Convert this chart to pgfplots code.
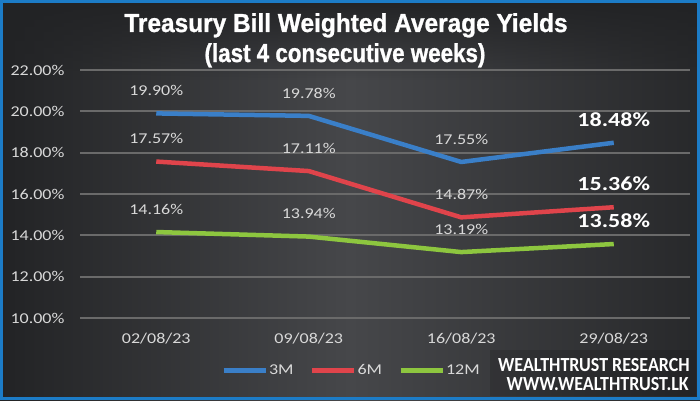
\documentclass[border=0pt]{standalone}
\usepackage{fontspec}
\usepackage{pgfplots}
\pgfplotsset{compat=1.18}
\usetikzlibrary{fadings}
\setmainfont[FakeStretch=1.2]{Carlito}
\newfontfamily\titlefontA[FakeStretch=0.94, FakeBold=1]{Liberation Sans}
\newfontfamily\titlefontB[FakeStretch=0.86, FakeBold=1]{Liberation Sans}
\newfontfamily\wmfont[FakeStretch=0.9]{Carlito}
\definecolor{bgdark}{HTML}{222325}
\definecolor{bgmid}{HTML}{46474A}
\definecolor{gridc}{HTML}{6A6A6A}
\definecolor{c3m}{HTML}{3A7FC8}
\definecolor{c6m}{HTML}{E0444B}
\definecolor{c12m}{HTML}{8DC63F}
\definecolor{lbl}{HTML}{D9D9D9}
\definecolor{bordc}{HTML}{1C7CC7}
\begin{document}
\begin{tikzpicture}
\shade[left color=bgdark, right color=bgdark!85!bgmid, middle color=bgmid] (0pt,0pt) rectangle (700pt,400pt);
\fill[bgdark, path fading=south] (0pt,320pt) rectangle (700pt,400pt);
\fill[black, opacity=0.12] (490pt,4pt) rectangle (696pt,50pt);
\draw[bordc, line width=3pt] (1.5pt,1.5pt) rectangle (698.5pt,398.5pt);
\begin{axis}[
  at={(80pt,82pt)}, anchor=south west, scale only axis,
  width=610pt, height=248pt,
  xmin=-0.5, xmax=3.5, ymin=10, ymax=22,
  xtick={0,1,2,3}, xticklabels={02/08/23,09/08/23,16/08/23,29/08/23},
  ytick={10,12,...,22},
  yticklabel={\pgfmathprintnumber[fixed,fixed zerofill,precision=2]{\tick}\%},
  /pgf/number format/assume math mode=true,
  axis line style={draw=none}, major tick length=0pt,
  ymajorgrids, grid style={gridc, line width=1.8pt},
  tick label style={lbl, font=\fontsize{15}{18}\selectfont},
  xticklabel style={yshift=-12pt},
  yticklabel style={xshift=-12pt},
  clip=false,
  legend style={at={(0.444,-0.212)}, anchor=center, draw=none, fill=none,
    legend columns=3, text=lbl, font=\fontsize{15}{18}\selectfont,
    nodes={inner xsep=1pt},
    /tikz/every even column/.append style={column sep=15pt}},
  legend image code/.code={\draw[#1, line width=5pt] (0pt,0pt) -- (42pt,0pt);},
  lab/.style={nodes near coords, point meta=explicit symbolic,
    every node near coord/.style={lbl, font=\fontsize{15}{18}\selectfont, anchor=south, yshift=12pt}},
  lastlab/.style={nodes near coords, point meta=explicit symbolic,
    every node near coord/.style={white, font=\bfseries\fontsize{20}{24}\selectfont, anchor=south, yshift=13pt}},
]
\addplot[c3m, line width=4.5pt, line join=round, lab] coordinates {(0,19.90)[{19.90\%}] (1,19.78)[{19.78\%}] (2,17.55)[{17.55\%}] (3,18.48)[{}]};
\addlegendentry{3M}
\addplot[c6m, line width=4.5pt, line join=round, lab] coordinates {(0,17.57)[{17.57\%}] (1,17.11)[{17.11\%}] (2,14.87)[{14.87\%}] (3,15.36)[{}]};
\addlegendentry{6M}
\addplot[c12m, line width=4.5pt, line join=round, lab] coordinates {(0,14.16)[{14.16\%}] (1,13.94)[{13.94\%}] (2,13.19)[{13.19\%}] (3,13.58)[{}]};
\addlegendentry{12M}
\addplot[draw=none, forget plot, lastlab] coordinates {(3,18.48)[{18.48\%}] (3,15.36)[{15.36\%}] (3,13.58)[{13.58\%}]};
\end{axis}
\node[white, font=\titlefontA\bfseries\fontsize{26}{30}\selectfont, inner sep=0pt, anchor=base] at (346pt,368pt) {Treasury Bill Weighted Average Yields};
\node[white, font=\titlefontB\bfseries\fontsize{26}{30}\selectfont, inner sep=0pt, anchor=base] at (345pt,338pt) {(last 4 consecutive weeks)};
\node[white, font=\wmfont\bfseries\fontsize{20}{22}\selectfont, inner sep=0pt, anchor=base east] at (690pt,29pt) {WEALTHTRUST RESEARCH};
\node[white, font=\wmfont\bfseries\fontsize{20}{22}\selectfont, inner sep=0pt, anchor=base east] at (689pt,10pt) {WWW.WEALTHTRUST.LK};
\pgfresetboundingbox
\useasboundingbox (0pt,0pt) rectangle (700pt,400pt);
\end{tikzpicture}
\end{document}
